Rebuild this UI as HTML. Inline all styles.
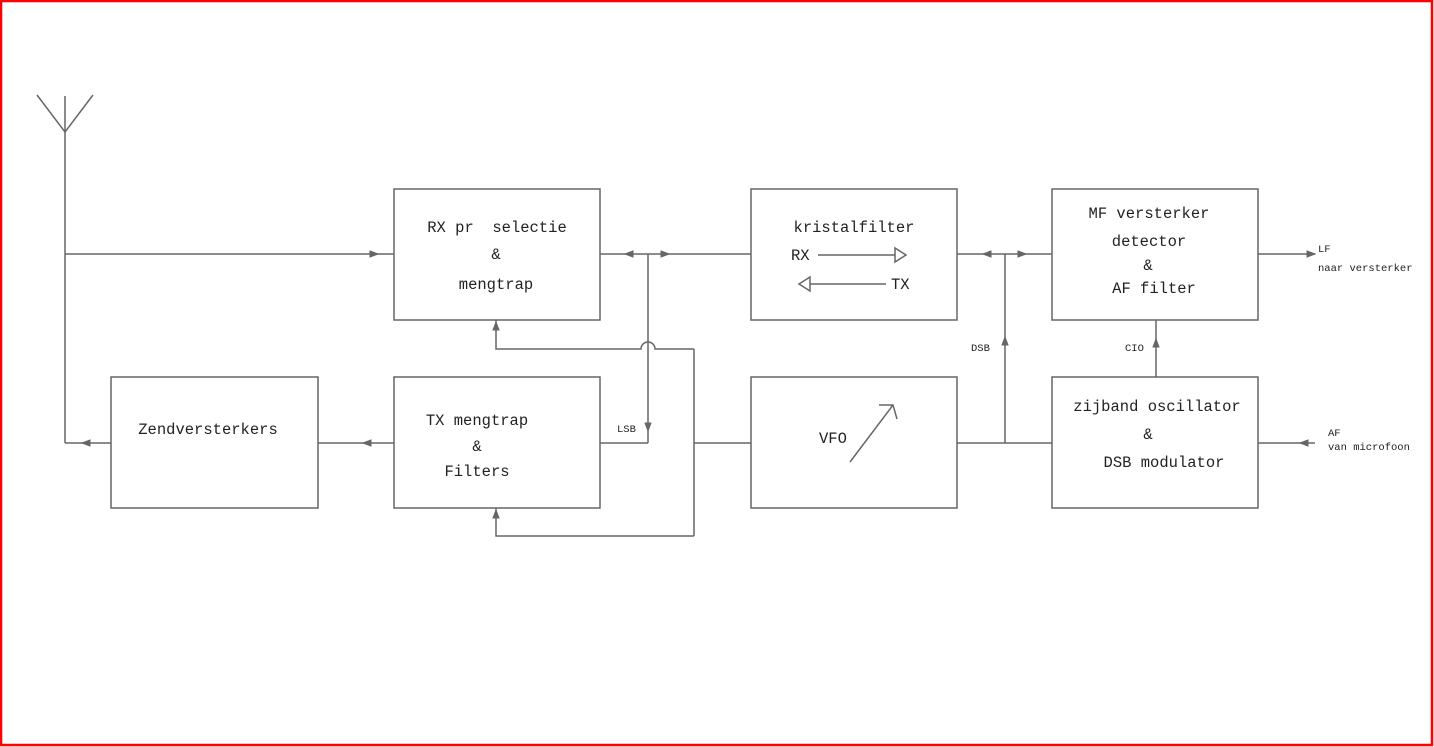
<!DOCTYPE html>
<html><head><meta charset="utf-8"><style>
html,body{margin:0;padding:0;background:#fff}
svg{display:block}
text{font-family:"Liberation Mono",monospace;fill:#222}
</style></head><body>
<svg width="1434" height="747" viewBox="0 0 1434 747" xmlns="http://www.w3.org/2000/svg">
<rect x="1" y="1" width="1431" height="744" fill="#fff" stroke="#f00" stroke-width="2.5"/>
<g stroke="#666" stroke-width="1.5" fill="none">
<line x1="37" y1="95" x2="65" y2="132"/><line x1="93" y1="95" x2="65" y2="132"/>
<line x1="65" y1="96" x2="65" y2="443"/>
<rect x="394" y="189" width="206" height="131"/>
<rect x="751" y="189" width="206" height="131"/>
<rect x="1052" y="189" width="206" height="131"/>
<rect x="111" y="377" width="207" height="131"/>
<rect x="394" y="377" width="206" height="131"/>
<rect x="751" y="377" width="206" height="131"/>
<rect x="1052" y="377" width="206" height="131"/>
<line x1="65" y1="254" x2="394" y2="254"/>
<line x1="600" y1="254" x2="751" y2="254"/>
<line x1="648" y1="254" x2="648" y2="443"/>
<line x1="600" y1="443" x2="648" y2="443"/>
<line x1="694" y1="443" x2="751" y2="443"/>
<line x1="694" y1="349" x2="694" y2="536"/>
<path d="M496 320 V349 H641 A7 7 0 0 1 655 349 H694"/>
<path d="M496 508 V536 H694"/>
<line x1="318" y1="443" x2="394" y2="443"/>
<line x1="65" y1="443" x2="111" y2="443"/>
<line x1="957" y1="254" x2="1052" y2="254"/>
<line x1="1005" y1="254" x2="1005" y2="443"/>
<line x1="957" y1="443" x2="1052" y2="443"/>
<line x1="1156" y1="320" x2="1156" y2="377"/>
<line x1="1258" y1="254" x2="1315" y2="254"/>
<line x1="1258" y1="443" x2="1315" y2="443"/>
<line x1="818" y1="255" x2="895" y2="255"/>
<path d="M895 248 L906 255 L895 262 Z"/>
<line x1="810" y1="284" x2="886" y2="284"/>
<path d="M810 277 L799 284 L810 291 Z"/>
<line x1="850" y1="462" x2="893" y2="405"/>
<path d="M879 405 H893 L897 419"/>
</g>
<g fill="#666" stroke="#666" stroke-width="1">
<path d="M378 254 l-8 -3 v6 z"/>
<path d="M625 254 l8 -3 v6 z"/>
<path d="M669 254 l-8 -3 v6 z"/>
<path d="M648 431 l-3 -8 h6 z"/>
<path d="M496 322 l-3 8 h6 z"/>
<path d="M496 510 l-3 8 h6 z"/>
<path d="M363 443 l8 -3 v6 z"/>
<path d="M82 443 l8 -3 v6 z"/>
<path d="M983 254 l8 -3 v6 z"/>
<path d="M1026 254 l-8 -3 v6 z"/>
<path d="M1005 337 l-3 8 h6 z"/>
<path d="M1156 339 l-3 8 h6 z"/>
<path d="M1315 254 l-8 -3 v6 z"/>
<path d="M1300 443 l8 -3 v6 z"/>
</g>
<g font-size="15.5">
<text x="497" y="232" text-anchor="middle" xml:space="preserve">RX pr  selectie</text>
<text x="496" y="259" text-anchor="middle">&amp;</text>
<text x="496" y="289" text-anchor="middle">mengtrap</text>
<text x="854" y="232" text-anchor="middle">kristalfilter</text>
<text x="791" y="260">RX</text>
<text x="891" y="289">TX</text>
<text x="1149" y="218" text-anchor="middle">MF versterker</text>
<text x="1149" y="246" text-anchor="middle">detector</text>
<text x="1148" y="270" text-anchor="middle">&amp;</text>
<text x="1154" y="293" text-anchor="middle">AF filter</text>
<text x="208" y="434" text-anchor="middle">Zendversterkers</text>
<text x="477" y="425" text-anchor="middle">TX mengtrap</text>
<text x="477" y="451" text-anchor="middle">&amp;</text>
<text x="477" y="476" text-anchor="middle">Filters</text>
<text x="819" y="443">VFO</text>
<text x="1157" y="411" text-anchor="middle">zijband oscillator</text>
<text x="1148" y="439" text-anchor="middle">&amp;</text>
<text x="1164" y="467" text-anchor="middle">DSB modulator</text>
</g>
<g font-size="10.5">
<text x="617" y="432">LSB</text>
<text x="971" y="351">DSB</text>
<text x="1125" y="351">CIO</text>
<text x="1318" y="252">LF</text>
<text x="1318" y="271">naar versterker</text>
<text x="1328" y="436">AF</text>
<text x="1328" y="450">van microfoon</text>
</g>
</svg>
</body></html>
